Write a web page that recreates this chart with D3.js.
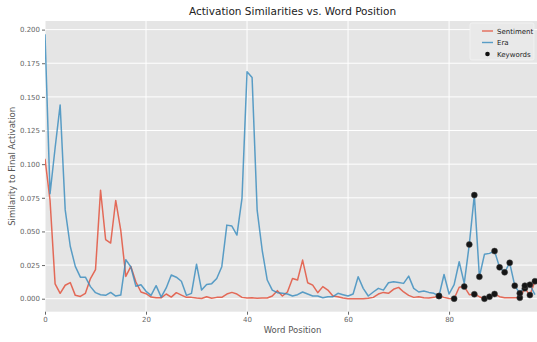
<!DOCTYPE html>
<html>
<head>
<meta charset="utf-8">
<script src="https://cdn.jsdelivr.net/npm/d3@7"></script>
<style>
  body { margin: 0; background: #fff; }
  text { font-family: "DejaVu Sans", sans-serif; }
</style>
</head>
<body>
<div id="chart"></div>
<script>
// similarity of each word's activation to the final activation
var sentiment = [0.104, 0.073, 0.011, 0.004, 0.010, 0.012, 0.0025, 0.0017, 0.004, 0.015,
  0.0216, 0.0806, 0.044, 0.0414, 0.073, 0.0508, 0.0166, 0.024, 0.0124, 0.005,
  0.0037, 0.0012, 0.0007, 0.0007, 0.0035, 0.0012, 0.0045, 0.0027, 0.001, 0.001,
  0.0005, 0.0002, 0.0015, 0.0003, 0.001, 0.001, 0.0035, 0.0047, 0.0035, 0.001,
  0.0005, 0.0007, 0.0003, 0.0005, 0.0005, 0.002, 0.006, 0.002, 0.005, 0.015,
  0.0139, 0.0287, 0.0119, 0.0101, 0.0045, 0.009, 0.0064, 0.002, 0.0015, 0.0005,
  0.0, 0.0, 0.0, 0.0, 0.0003, 0.001, 0.0035, 0.0047, 0.004, 0.007,
  0.0084, 0.005, 0.0025, 0.001, 0.0015, 0.0008, 0.0006, 0.001, 0.002, 0.001,
  0.0002, 0.0, 0.0085, 0.009, 0.003, 0.0033, 0.0015, 0.0, 0.0015, 0.0035,
  0.0015, 0.0008, 0.0008, 0.0008, 0.0007, 0.0077, 0.0027, 0.013];

var era = [0.1966, 0.078, 0.112, 0.144, 0.066, 0.039, 0.024, 0.016, 0.016, 0.009,
  0.0045, 0.003, 0.0025, 0.0047, 0.002, 0.0027, 0.029, 0.0236, 0.0092, 0.0104,
  0.0055, 0.0025, 0.0097, 0.0012, 0.008, 0.0176, 0.016, 0.013, 0.0025, 0.004,
  0.0257, 0.0064, 0.0105, 0.0112, 0.015, 0.0238, 0.0547, 0.054, 0.0473, 0.0745,
  0.1686, 0.1644, 0.0658, 0.036, 0.0139, 0.0064, 0.0045, 0.004, 0.0035, 0.002,
  0.003, 0.005, 0.0035, 0.002, 0.002, 0.0007, 0.0015, 0.0015, 0.004, 0.003,
  0.002, 0.0035, 0.0163, 0.0077, 0.002, 0.005, 0.0077, 0.0064, 0.0119, 0.0126,
  0.012, 0.0114, 0.0168, 0.0077, 0.005, 0.0057, 0.0047, 0.004, 0.002, 0.018,
  0.0035, 0.0105, 0.0275, 0.0114, 0.0403, 0.077, 0.0163, 0.033, 0.0337, 0.0354,
  0.0233, 0.0196, 0.0267, 0.0097, 0.004, 0.0097, 0.0104, 0.003];

// word positions that are keywords, marked on each line
var sentimentKeywords = [78, 81, 83, 85, 87, 88, 89, 94, 95, 96, 97];
var eraKeywords = [78, 84, 85, 86, 89, 90, 91, 92, 93, 94, 95, 96];

var xTicks = [0, 20, 40, 60, 80];
var yTicks = [0, 0.025, 0.05, 0.075, 0.1, 0.125, 0.15, 0.175, 0.2];

var seriesNames = ["Sentiment", "Era"];
var colors = ["#E24A33", "#348ABD"];

function init()
{
    var w = 537;
    var h = 342;
    var left = 45, top = 21, right = 540, bottom = 311.7;

    var svg = d3.select("#chart")
                .append("svg")
                .attr("width", w)
                .attr("height", h);

    var x = d3.scaleLinear().domain([0, 98]).range([left, right]);
    var y = d3.scaleLinear().domain([-0.00965, 0.2064]).range([bottom, top]);

    svg.append("rect")
        .attr("x", left).attr("y", top)
        .attr("width", right - left).attr("height", bottom - top)
        .style("fill", "#E5E5E5");

    // grid
    svg.append("g").selectAll("line")
        .data(yTicks).enter().append("line")
        .attr("x1", left).attr("x2", right)
        .attr("y1", function(d) { return y(d); })
        .attr("y2", function(d) { return y(d); })
        .style("stroke", "#fff").style("stroke-width", 1);
    svg.append("g").selectAll("line")
        .data(xTicks).enter().append("line")
        .attr("y1", top).attr("y2", bottom)
        .attr("x1", function(d) { return x(d); })
        .attr("x2", function(d) { return x(d); })
        .style("stroke", "#fff").style("stroke-width", 1);

    // axes
    var xAxis = svg.append("g")
        .attr("transform", "translate(0," + bottom + ")")
        .call(d3.axisBottom(x).tickValues(xTicks).tickSize(3).tickPadding(2).tickFormat(d3.format("d")));
    var yAxis = svg.append("g")
        .attr("transform", "translate(" + left + ",0)")
        .call(d3.axisLeft(y).tickValues(yTicks).tickSize(3).tickPadding(2).tickFormat(d3.format(".3f")));
    [xAxis, yAxis].forEach(function(a) {
        a.select(".domain").remove();
        a.selectAll("line").style("stroke", "#666");
        a.selectAll("text").style("fill", "#666").style("font-size", "7px")
            .style("font-family", "DejaVu Sans");
    });

    // lines
    svg.append("clipPath").attr("id", "plotclip")
        .append("rect").attr("x", left).attr("y", top)
        .attr("width", right - left).attr("height", bottom - top);

    var line = d3.line()
        .x(function(d, i) { return x(i); })
        .y(function(d) { return y(d); });

    var plot = svg.append("g").attr("clip-path", "url(#plotclip)");
    [sentiment, era].forEach(function(s, k) {
        plot.append("path")
            .datum(s)
            .attr("d", line)
            .style("fill", "none")
            .style("stroke", colors[k])
            .style("stroke-opacity", 0.8)
            .style("stroke-width", 1.5)
            .style("stroke-linejoin", "round");
    });

    var dots = sentimentKeywords.map(function(i) { return [i, sentiment[i]]; })
        .concat(eraKeywords.map(function(i) { return [i, era[i]]; }));
    plot.selectAll("circle.kw")
        .data(dots).enter().append("circle")
        .attr("class", "kw")
        .attr("cx", function(d) { return x(d[0]); })
        .attr("cy", function(d) { return y(d[1]); })
        .attr("r", 3)
        .style("fill", "#151515")
        .style("stroke", "#444")
        .style("stroke-width", 0.5);

    // title and labels
    svg.append("text")
        .attr("x", (left + right) / 2).attr("y", 15)
        .attr("text-anchor", "middle")
        .style("font-size", "10.5px").style("fill", "#222")
        .text("Activation Similarities vs. Word Position");
    svg.append("text")
        .attr("x", (left + right) / 2).attr("y", 333)
        .attr("text-anchor", "middle")
        .style("font-size", "8.5px").style("fill", "#555")
        .text("Word Position");
    svg.append("text")
        .attr("transform", "translate(15," + ((top + bottom) / 2) + ") rotate(-90)")
        .attr("text-anchor", "middle")
        .style("font-size", "8.5px").style("fill", "#555")
        .text("Similarity to Final Activation");

    // legend
    var lg = svg.append("g");
    lg.append("rect")
        .attr("x", 470).attr("y", 23).attr("width", 64).attr("height", 37)
        .attr("rx", 2)
        .style("fill", "#E9E9E9").style("stroke", "#F4F4F4").style("stroke-width", 0.8);
    var items = seriesNames.concat(["Keywords"]);
    lg.selectAll("text.lg")
        .data(items).enter().append("text")
        .attr("class", "lg")
        .attr("x", 497)
        .attr("y", function(d, i) { return 33.5 + i * 11.5; })
        .style("font-size", "7px").style("fill", "#222")
        .text(function(d) { return d; });
    lg.selectAll("line.lg")
        .data(seriesNames).enter().append("line")
        .attr("class", "lg")
        .attr("x1", 482).attr("x2", 493)
        .attr("y1", function(d, i) { return 31 + i * 11.5; })
        .attr("y2", function(d, i) { return 31 + i * 11.5; })
        .style("stroke", function(d, i) { return colors[i]; })
        .style("stroke-opacity", 0.8)
        .style("stroke-width", 1.4);
    lg.append("circle")
        .attr("cx", 487.5).attr("cy", 54).attr("r", 2.3)
        .style("fill", "#111");
}
window.onload = init;
</script>
</body>
</html>
